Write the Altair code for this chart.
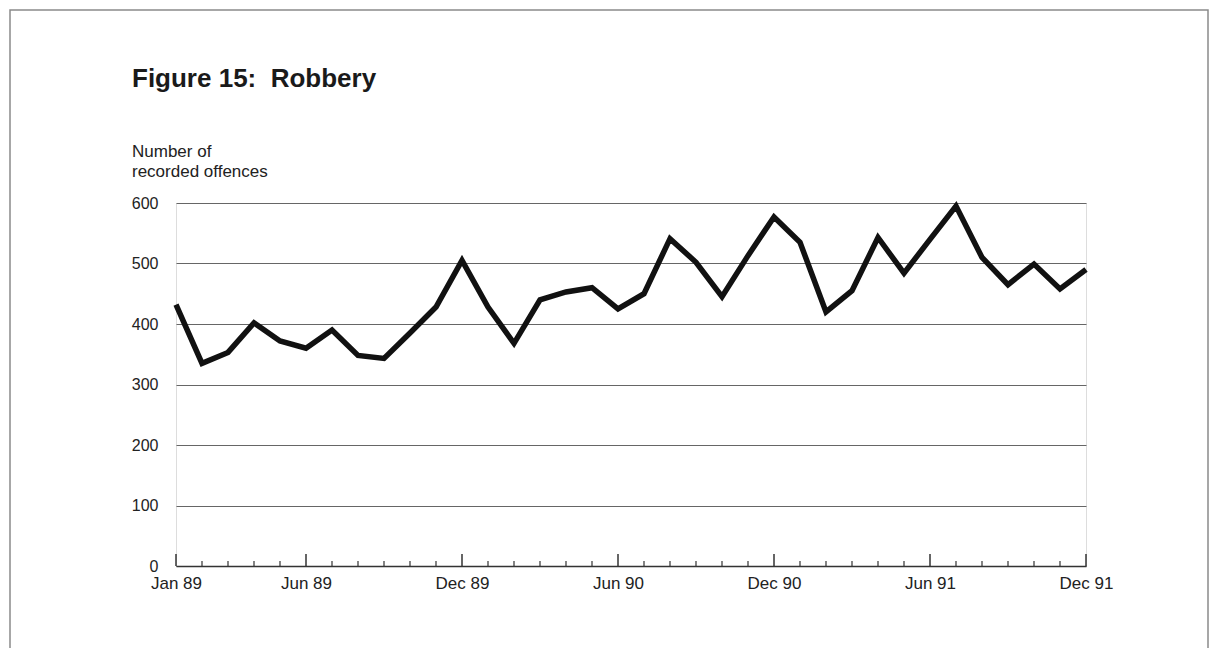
import altair as alt
import pandas as pd

month_names = ["Jan", "Feb", "Mar", "Apr", "May", "Jun",
               "Jul", "Aug", "Sep", "Oct", "Nov", "Dec"]
years = ["89", "90", "91"]

offences_1989 = [432, 335, 353, 402, 372, 360, 390, 348, 343, 385, 428, 505]
offences_1990 = [428, 368, 440, 453, 460, 425, 450, 541, 502, 445, 513, 577]
offences_1991 = [535, 420, 455, 543, 484, 540, 595, 510, 465, 499, 458, 490]

labelled_months = ["Jan 89", "Jun 89", "Dec 89", "Jun 90", "Dec 90", "Jun 91", "Dec 91"]
y_ticks = [0, 100, 200, 300, 400, 500, 600]

title_text = "Figure 15:\u00a0\u00a0Robbery"
y_title_lines = ["Number of", "recorded offences"]

months = [f"{m} {y}" for y in years for m in month_names]
values = offences_1989 + offences_1990 + offences_1991

df = pd.DataFrame({"month": months, "offences": values})
df["major"] = df["month"].isin(labelled_months)

W, H = 910, 363
FONT = "Liberation Sans"

x_enc = alt.X(
    "month:O",
    sort=months,
    scale=alt.Scale(type="point", padding=0),
    axis=alt.Axis(
        values=labelled_months,
        labelAngle=0,
        ticks=False,
        domain=True,
        domainColor="#333333",
        domainWidth=1.5,
        labelFont=FONT,
        labelFontSize=17,
        labelColor="#222222",
        labelPadding=9,
        title=None,
        grid=False,
    ),
)
y_enc = alt.Y(
    "offences:Q",
    scale=alt.Scale(domain=[0, 600], nice=False, zero=True),
    axis=alt.Axis(
        values=y_ticks,
        ticks=False,
        domain=False,
        grid=True,
        gridColor="#666666",
        gridWidth=1.2,
        labelFont=FONT,
        labelFontSize=16,
        labelColor="#222222",
        labelPadding=18,
        title=None,
    ),
)

base = alt.Chart(df)

line = base.mark_line(
    color="#111111", strokeWidth=5.5, strokeJoin="miter", strokeCap="butt"
).encode(x=x_enc, y=y_enc)

major_ticks = base.transform_filter("datum.major").mark_rule(
    color="#333333", strokeWidth=1.5
).encode(x=alt.X("month:O", sort=months), y=alt.value(H), y2=alt.value(H - 12))

minor_ticks = base.transform_filter("!datum.major").mark_rule(
    color="#333333", strokeWidth=1.2
).encode(x=alt.X("month:O", sort=months), y=alt.value(H), y2=alt.value(H - 5))

title = alt.Chart(pd.DataFrame({"t": [title_text]})).mark_text(
    align="left", baseline="alphabetic", font=FONT, fontSize=26,
    fontWeight="bold", color="#1a1a1a"
).encode(text="t:N", x=alt.value(-44), y=alt.value(-116))

ytitle1 = alt.Chart(pd.DataFrame({"t": [y_title_lines[0]]})).mark_text(
    align="left", baseline="alphabetic", font=FONT, fontSize=17, color="#222222"
).encode(text="t:N", x=alt.value(-44), y=alt.value(-46))

ytitle2 = alt.Chart(pd.DataFrame({"t": [y_title_lines[1]]})).mark_text(
    align="left", baseline="alphabetic", font=FONT, fontSize=17, color="#222222"
).encode(text="t:N", x=alt.value(-44), y=alt.value(-26))

frame = alt.Chart(pd.DataFrame({"a": [0]})).mark_rect(
    fill=None, stroke="#8a8a8a", strokeWidth=1.5
).encode(x=alt.value(-166), x2=alt.value(1032), y=alt.value(-193), y2=alt.value(480))

chart = alt.layer(frame, line, major_ticks, minor_ticks, title, ytitle1, ytitle2).properties(
    width=W,
    height=H,
    autosize=alt.AutoSizeParams(type="none"),
    padding={"left": 168, "top": 195, "right": 124, "bottom": 82},
).configure_view(stroke=None).configure(background="white")

chart.save("out.html", embed_options={"renderer": "svg", "actions": False})
